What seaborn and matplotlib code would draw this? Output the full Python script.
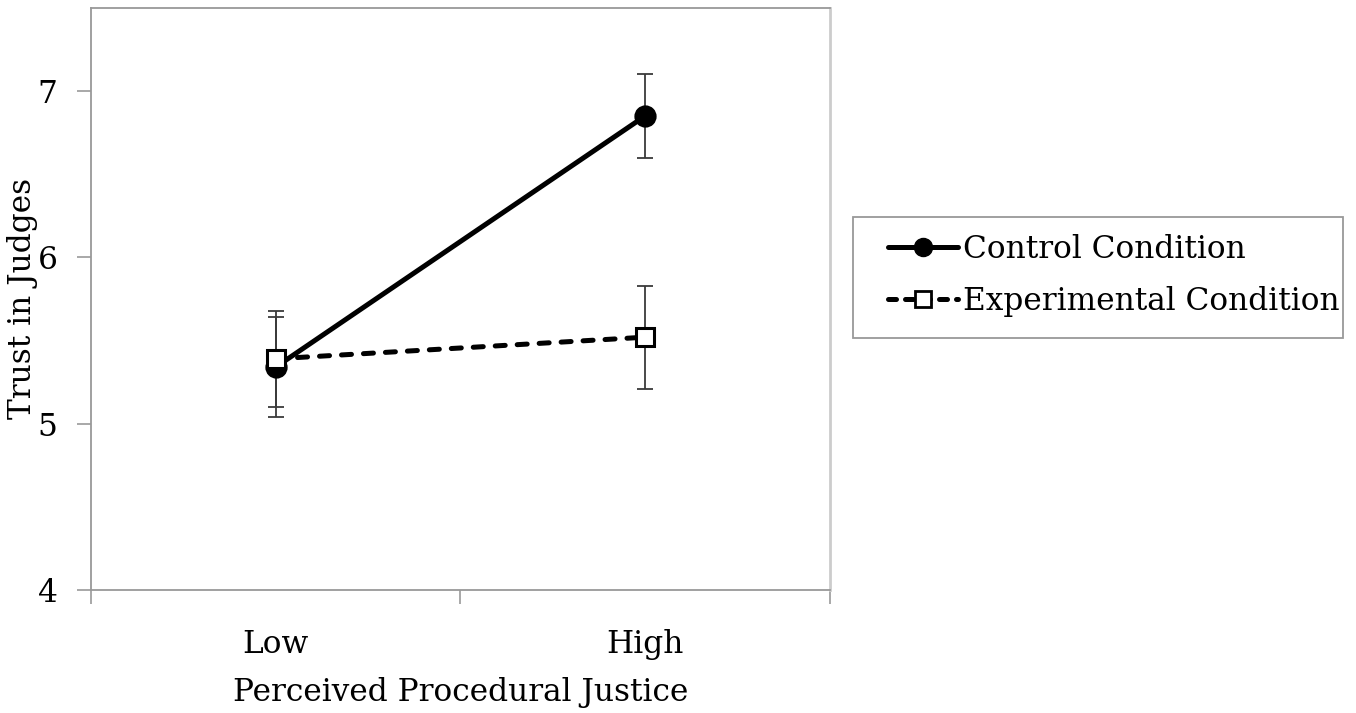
import matplotlib
matplotlib.use("Agg")
import matplotlib.pyplot as plt
import seaborn as sns
import pandas as pd
from matplotlib.lines import Line2D
from matplotlib.patches import Rectangle

# data
levels = ["Low", "High"]
control_means = [5.34, 6.85]
control_err = [0.30, 0.25]
experimental_means = [5.39, 5.52]
experimental_err = [0.29, 0.31]
series_names = ["Control Condition", "Experimental Condition"]

df = pd.DataFrame({
    "justice": levels * 2,
    "trust": control_means + experimental_means,
    "condition": [series_names[0]] * 2 + [series_names[1]] * 2,
})

sns.set_style("white")
plt.rcParams["font.family"] = ["DejaVu Serif"]
plt.rcParams["font.size"] = 22.5
plt.rcParams["text.color"] = "black"
plt.rcParams["axes.labelcolor"] = "black"

fig = plt.figure(figsize=(13.56, 7.13), dpi=100)
ax = fig.add_axes([0.067, 0.1725, 0.545, 0.8165])

sns.pointplot(data=df, x="justice", y="trust", hue="condition",
              order=levels, hue_order=series_names,
              palette=["black", "black"], markers=["o", "s"],
              linestyles=["-", "--"], errorbar=None, ax=ax, legend=False)

for line in ax.lines:
    line.set_linewidth(3.6)
    line.set_zorder(3)
    line.set_dash_capstyle("round")
    if line.get_linestyle() == "--":
        line.set_dashes([2.0, 2.4])
    if line.get_marker() == "s":
        line.set_markerfacecolor("white")
        line.set_markeredgecolor("black")
        line.set_markersize(12.5)
        line.set_markeredgewidth(2.2)
    elif line.get_marker() == "o":
        line.set_markersize(14)
        line.set_markerfacecolor("black")

# error bars at the category positions, under the markers
pos = list(range(len(levels)))
for means, errs in [(control_means, control_err), (experimental_means, experimental_err)]:
    ax.errorbar(pos, means, yerr=errs, fmt="none", ecolor="#3a3a3a",
                elinewidth=1.3, capsize=5.8, capthick=1.3, zorder=2)

ax.set_xlim(-0.5, 1.5)
ax.set_ylim(4, 7.5)
ax.set_yticks([4, 5, 6, 7])
ax.set_xticks([-0.5, 0.5, 1.5], minor=True)
ax.tick_params(axis="x", which="major", length=0, pad=28, labelcolor="black")
ax.tick_params(axis="x", which="minor", length=10, width=1.2, color="#999999",
               direction="out", bottom=True)
ax.tick_params(axis="y", length=10, width=1.2, color="#999999",
               direction="out", left=True, pad=14, labelcolor="black")
ax.set_xlabel("Perceived Procedural Justice", labelpad=12)
ax.set_ylabel("Trust in Judges", labelpad=0)

for side in ["left", "bottom", "top"]:
    ax.spines[side].set_color("#999999")
    ax.spines[side].set_linewidth(1.3)
ax.spines["right"].set_color("#cccccc")
ax.spines["right"].set_linewidth(2)

handles = [
    Line2D([], [], color="black", lw=3.6, marker="o", markersize=13),
    Line2D([], [], color="black", lw=3.6, ls=(0, (1.6, 1.8)), marker="s",
           markersize=11, markerfacecolor="white", markeredgewidth=2.0,
           dash_capstyle="round"),
]
leg = fig.legend(handles, series_names, loc="upper left",
                 bbox_to_anchor=(888 / 1356, 1 - 234 / 713),
                 frameon=False, handlelength=2.25, handletextpad=0.15,
                 borderpad=0, labelspacing=0.68, borderaxespad=0,
                 fontsize=22.5)

# legend box as drawn in the reference (wider padding on the left)
fig.patches.append(Rectangle((853 / 1356, 1 - 338 / 713), 490 / 1356, 121 / 713,
                             transform=fig.transFigure, fill=False,
                             edgecolor="#999999", linewidth=1.3))

fig.savefig("out.png", dpi=100)
